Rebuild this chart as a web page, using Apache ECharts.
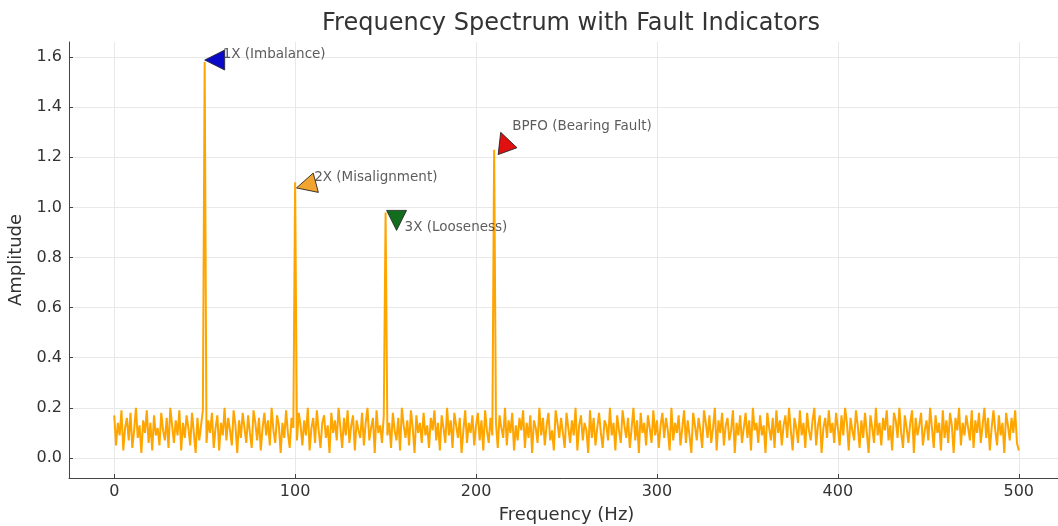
<!DOCTYPE html>
<html>
<head>
<meta charset="utf-8">
<script src="https://cdn.jsdelivr.net/npm/echarts@6/dist/echarts.min.js"></script>
<style>
  html, body { margin: 0; padding: 0; background: #fff; }
  #chart { width: 1058px; height: 526px; }
</style>
</head>
<body>
<div id="chart"></div>
<script>
// background noise, one value per Hz (0..500), in hundredths of amplitude
const noise = [
  17,5,14,9,19,3,12,16,7,18,4,11,20,8,13,2,15,10,19,6,14,3,17,9,12,
  5,18,11,7,16,4,20,13,6,15,9,19,3,14,8,17,12,5,18,10,2,16,7,13,19,
  12,6,15,10,18,4,12,17,3,14,9,20,7,16,11,5,19,13,2,15,8,18,12,6,17,
  10,4,19,14,7,16,3,12,18,9,15,5,20,11,6,17,13,2,14,8,19,10,4,16,12,
  9,7,18,13,5,15,9,20,3,12,16,6,19,11,4,14,17,8,13,2,18,10,15,7,20,
  12,4,16,9,19,6,13,17,3,15,11,8,18,5,14,20,7,12,16,2,19,10,13,6,17,
  15,9,14,4,18,11,7,16,3,20,13,8,15,5,19,12,2,17,10,14,6,18,9,13,4,
  16,11,19,7,14,3,17,12,6,20,9,15,4,18,13,8,16,2,11,19,6,14,10,17,5,
  13,18,7,15,3,19,11,6,16,9,11,14,4,17,12,8,20,5,15,10,18,3,13,7,16,
  11,19,4,14,8,17,2,15,12,6,20,9,16,5,13,18,7,11,3,19,14,8,16,10,4,
  18,12,6,15,9,20,3,13,17,7,14,11,2,19,8,16,5,12,18,10,4,15,13,7,20,
  9,14,3,17,11,6,19,13,8,16,4,12,20,7,15,2,18,10,14,5,17,12,6,19,9,
  15,4,13,18,8,16,11,3,20,7,14,10,17,5,12,19,6,15,9,2,18,13,7,16,11,
  4,19,14,8,17,6,12,20,3,15,10,18,5,13,16,7,11,19,2,14,9,17,6,12,18,
  8,15,3,20,11,14,6,17,9,13,2,18,12,7,16,4,19,10,15,5,13,17,8,20,11,
  3,16,12,6,19,9,14,4,18,11,7,15,20,5,13,17,2,12,16,8,19,10,14,6,18,
  12,5,17,9,20,14,3,16,11,7,19,13,4,15,8,18,10,2,17,12,6,20,9,14,5,
  16,11,19,7,13,3,18,15,8,20,10,4,17,12,6,14,19,2,16,9,13,18,5,11,15,
  7,20,12,4,17,10,14,3,19,8,15,6,18,13,2,16,11,20,5,14,9,17,12,7,19,
  4,15,10,18,6,13,20,8,16,3,12,19,11,5,17,9,14,2,18,13,7,16,10,19,6,
  3
];

const faultFreqs = [50, 100, 150, 210];
const faultAmps = [1.58, 1.10, 0.98, 1.23];
const faultNames = ['1X (Imbalance)', '2X (Misalignment)', '3X (Looseness)', 'BPFO (Bearing Fault)'];
const faultColors = ['#0a0ac8', '#f2a431', '#126e1e', '#e01010'];

const xTicks = [0, 100, 200, 300, 400, 500];
const yTicks = [0, 0.2, 0.4, 0.6, 0.8, 1.0, 1.2, 1.4, 1.6];

// marker look for each fault: rotation, offset from the peak, label offset
const markerRotate = [90, 105, 180, 20];
const markerOffset = [[10, -2], [11, 3], [11, 8], [10, -8]];
const labelOffset = [[13, -8], [14, -5], [14, 15], [13, -23]];

let spectrum = noise.map(function (v, i) { return [i, v / 100]; });
faultFreqs.forEach(function (f, k) { spectrum[f][1] = faultAmps[k]; });

const font = 'DejaVu Sans';
const chart = echarts.init(document.getElementById('chart'));

let series = [{
  name: 'spectrum',
  type: 'line',
  data: spectrum,
  showSymbol: false,
  lineStyle: { color: '#ffa500', width: 2 },
  itemStyle: { color: '#ffa500' },
  z: 2
}];

faultFreqs.forEach(function (f, k) {
  series.push({
    type: 'scatter',
    data: [[f, faultAmps[k]]],
    symbol: 'triangle',
    symbolSize: 20,
    symbolRotate: markerRotate[k],
    symbolOffset: markerOffset[k],
    itemStyle: { color: faultColors[k], opacity: 1, borderColor: '#222', borderWidth: 0.8 },
    z: 4
  });
  series.push({
    type: 'scatter',
    data: [[f, faultAmps[k]]],
    symbolSize: 0,
    label: {
      show: true,
      position: 'right',
      distance: 5,
      offset: labelOffset[k],
      formatter: faultNames[k],
      fontFamily: font,
      fontSize: 13.5,
      color: '#333'
    },
    z: 5
  });
});

chart.setOption({
  animation: false,
  title: {
    text: 'Frequency Spectrum with Fault Indicators',
    left: 566,
    textAlign: 'center',
    top: 7,
    textStyle: { fontFamily: font, fontSize: 24, fontWeight: 'normal', color: '#333' }
  },
  grid: { left: 69, top: 42, width: 995, height: 436, outerBoundsMode: 'none' },
  xAxis: {
    type: 'value',
    min: -25,
    max: 525,
    name: 'Frequency (Hz)',
    nameLocation: 'middle',
    nameGap: 28,
    nameTextStyle: { fontFamily: font, fontSize: 18, color: '#333' },
    axisLine: { show: true, onZero: false, lineStyle: { color: '#444', width: 1 } },
    axisTick: { show: true, inside: true, length: 4, customValues: xTicks, lineStyle: { color: '#444' } },
    axisLabel: { customValues: xTicks, fontFamily: font, fontSize: 16, color: '#333', margin: 6 },
    splitLine: { show: true, lineStyle: { color: '#e8e8e8', width: 1 } }
  },
  yAxis: {
    type: 'value',
    min: -0.08,
    max: 1.66,
    name: 'Amplitude',
    nameLocation: 'middle',
    nameGap: 42,
    nameRotate: 90,
    nameTextStyle: { fontFamily: font, fontSize: 18, color: '#333' },
    axisLine: { show: true, onZero: false, lineStyle: { color: '#444', width: 1 } },
    axisTick: { show: true, inside: true, length: 4, customValues: yTicks, lineStyle: { color: '#444' } },
    axisLabel: {
      customValues: yTicks,
      fontFamily: font,
      fontSize: 16,
      color: '#333',
      margin: 7,
      formatter: function (v) { return v.toFixed(1); }
    },
    splitLine: { show: true, lineStyle: { color: '#e8e8e8', width: 1 } }
  },
  series: series
});
</script>
</body>
</html>
